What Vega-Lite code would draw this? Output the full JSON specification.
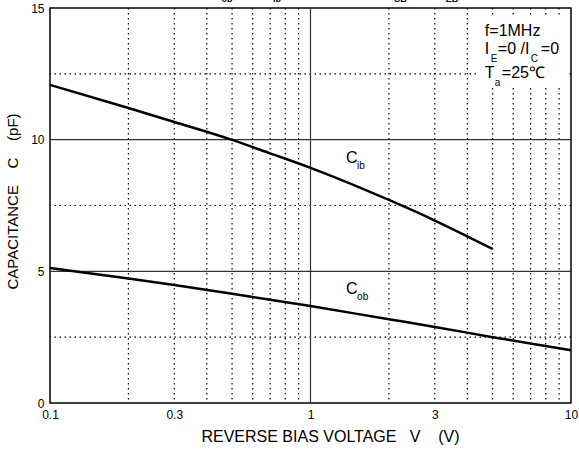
{
  "$schema": "https://vega.github.io/schema/vega-lite/v6.json",
  "width": 521,
  "height": 395,
  "autosize": "none",
  "padding": {"left": 50, "top": 8, "right": 8, "bottom": 49},
  "background": "white",
  "config": {
    "view": {"stroke": "#000", "strokeWidth": 1.5},
    "font": "Liberation Sans",
    "text": {"font": "Liberation Sans", "color": "#000"}
  },
  "datasets": {
    "curves": [
      {"v": 0.1, "c": 12.08, "s": "Cib"},
      {"v": 0.2, "c": 11.2, "s": "Cib"},
      {"v": 0.3, "c": 10.67, "s": "Cib"},
      {"v": 0.5, "c": 9.99, "s": "Cib"},
      {"v": 0.7, "c": 9.48, "s": "Cib"},
      {"v": 1.0, "c": 8.93, "s": "Cib"},
      {"v": 2.0, "c": 7.71, "s": "Cib"},
      {"v": 3.0, "c": 6.93, "s": "Cib"},
      {"v": 5.0, "c": 5.85, "s": "Cib"},
      {"v": 0.1, "c": 5.13, "s": "Cob"},
      {"v": 0.2, "c": 4.73, "s": "Cob"},
      {"v": 0.3, "c": 4.48, "s": "Cob"},
      {"v": 0.5, "c": 4.15, "s": "Cob"},
      {"v": 1.0, "c": 3.68, "s": "Cob"},
      {"v": 2.0, "c": 3.18, "s": "Cob"},
      {"v": 3.0, "c": 2.89, "s": "Cob"},
      {"v": 5.0, "c": 2.5, "s": "Cob"},
      {"v": 10.0, "c": 2.0, "s": "Cob"}
    ],
    "vdot": [{"x": 0.2}, {"x": 0.3}, {"x": 0.4}, {"x": 0.5}, {"x": 0.6}, {"x": 0.7}, {"x": 0.8}, {"x": 0.9}, {"x": 2}, {"x": 3}, {"x": 4}, {"x": 5}, {"x": 6}, {"x": 7}, {"x": 8}, {"x": 9}],
    "hdot": [{"y": 2.5}, {"y": 7.5}, {"y": 12.5}],
    "vsolid": [{"x": 1}],
    "hsolid": [{"y": 5}, {"y": 10}]
  },
  "layer": [
    {
      "data": {"name": "vdot"},
      "mark": {"type": "rule", "stroke": "#000", "strokeWidth": 1.2, "strokeDash": [1.5, 3.5]},
      "encoding": {"x": {"field": "x", "type": "quantitative", "scale": {"type": "log", "domain": [0.1, 10], "nice": false},
        "axis": {"values": [0.1, 0.3, 1, 3, 10], "format": "~g", "title": "REVERSE BIAS VOLTAGE\u00a0\u00a0\u00a0V\u00a0\u00a0\u00a0\u00a0(V)", "grid": false, "ticks": false, "domain": false, "labelFontSize": 12, "labelColor": "#000", "labelPadding": 6, "titleFontSize": 16, "titleFontWeight": "normal", "titleColor": "#000", "titlePadding": 8, "titleX": 280, "titleAlign": "center", "labelFont": "Liberation Sans", "titleFont": "Liberation Sans", "labelOverlap": false, "labelFlush": false}}}
    },
    {
      "data": {"name": "hdot"},
      "mark": {"type": "rule", "stroke": "#000", "strokeWidth": 1.2, "strokeDash": [1.5, 3.5]},
      "encoding": {"y": {"field": "y", "type": "quantitative", "scale": {"domain": [0, 15], "nice": false},
        "axis": {"values": [0, 5, 10, 15], "title": "CAPACITANCE\u00a0\u00a0\u00a0\u00a0C\u00a0\u00a0\u00a0\u00a0(pF)", "grid": false, "ticks": false, "domain": false, "labelFontSize": 12, "labelColor": "#000", "labelPadding": 6, "titleFontSize": 15, "titleFontWeight": "normal", "titleColor": "#000", "titlePadding": 10, "titleY": 193, "labelFont": "Liberation Sans", "titleFont": "Liberation Sans", "labelFlush": false}}}
    },
    {
      "data": {"name": "vsolid"},
      "mark": {"type": "rule", "stroke": "#333", "strokeWidth": 1.2},
      "encoding": {"x": {"field": "x", "type": "quantitative"}}
    },
    {
      "data": {"name": "hsolid"},
      "mark": {"type": "rule", "stroke": "#333", "strokeWidth": 1.2},
      "encoding": {"y": {"field": "y", "type": "quantitative"}}
    },
    {
      "data": {"values": [{"x1": 4.37, "x2": 9.75, "y1": 12.04, "y2": 14.7}]},
      "mark": {"type": "rect", "fill": "white"},
      "encoding": {"x": {"field": "x1", "type": "quantitative"}, "x2": {"field": "x2"}, "y": {"field": "y1", "type": "quantitative"}, "y2": {"field": "y2"}}
    },
    {
      "data": {"name": "curves"},
      "mark": {"type": "line", "stroke": "#000", "strokeWidth": 2.5, "interpolate": "monotone"},
      "encoding": {
        "x": {"field": "v", "type": "quantitative"},
        "y": {"field": "c", "type": "quantitative"},
        "detail": {"field": "s", "type": "nominal"}
      }
    },
    {
      "data": {"values": [{"x": 1.37, "y": 9.3, "t": "C"}, {"x": 1.37, "y": 4.33, "t": "C"}]},
      "mark": {"type": "text", "fontSize": 16, "align": "left", "baseline": "middle"},
      "encoding": {"x": {"field": "x", "type": "quantitative"}, "y": {"field": "y", "type": "quantitative"}, "text": {"field": "t"}}
    },
    {
      "data": {"values": [{"x": 1.37, "y": 9.3, "t": "ib"}, {"x": 1.37, "y": 4.33, "t": "ob"}]},
      "mark": {"type": "text", "fontSize": 10, "align": "left", "baseline": "middle", "dx": 11, "dy": 8},
      "encoding": {"x": {"field": "x", "type": "quantitative"}, "y": {"field": "y", "type": "quantitative"}, "text": {"field": "t"}}
    },
    {
      "data": {"values": [{"x": 4.67, "y": 14.13, "t": "f=1MHz"}, {"x": 4.67, "y": 13.44, "t": "I"}, {"x": 4.67, "y": 12.53, "t": "T"}]},
      "mark": {"type": "text", "fontSize": 16, "align": "left", "baseline": "middle"},
      "encoding": {"x": {"field": "x", "type": "quantitative"}, "y": {"field": "y", "type": "quantitative"}, "text": {"field": "t"}}
    },
    {
      "data": {"values": [{"x": 4.67, "y": 13.44, "t": "E"}]},
      "mark": {"type": "text", "fontSize": 10, "align": "left", "baseline": "middle", "dx": 6, "dy": 10},
      "encoding": {"x": {"field": "x", "type": "quantitative"}, "y": {"field": "y", "type": "quantitative"}, "text": {"field": "t"}}
    },
    {
      "data": {"values": [{"x": 4.67, "y": 13.44, "t": "=0 /I"}]},
      "mark": {"type": "text", "fontSize": 16, "align": "left", "baseline": "middle", "dx": 13},
      "encoding": {"x": {"field": "x", "type": "quantitative"}, "y": {"field": "y", "type": "quantitative"}, "text": {"field": "t"}}
    },
    {
      "data": {"values": [{"x": 4.67, "y": 13.44, "t": "C"}]},
      "mark": {"type": "text", "fontSize": 10, "align": "left", "baseline": "middle", "dx": 46, "dy": 10},
      "encoding": {"x": {"field": "x", "type": "quantitative"}, "y": {"field": "y", "type": "quantitative"}, "text": {"field": "t"}}
    },
    {
      "data": {"values": [{"x": 4.67, "y": 13.44, "t": "=0"}]},
      "mark": {"type": "text", "fontSize": 16, "align": "left", "baseline": "middle", "dx": 56},
      "encoding": {"x": {"field": "x", "type": "quantitative"}, "y": {"field": "y", "type": "quantitative"}, "text": {"field": "t"}}
    },
    {
      "data": {"values": [{"x": 4.67, "y": 12.53, "t": "a"}]},
      "mark": {"type": "text", "fontSize": 10, "align": "left", "baseline": "middle", "dx": 10, "dy": 10},
      "encoding": {"x": {"field": "x", "type": "quantitative"}, "y": {"field": "y", "type": "quantitative"}, "text": {"field": "t"}}
    },
    {
      "data": {"values": [{"x": 4.67, "y": 12.53, "t": "=25℃"}]},
      "mark": {"type": "text", "fontSize": 16, "align": "left", "baseline": "middle", "dx": 17},
      "encoding": {"x": {"field": "x", "type": "quantitative"}, "y": {"field": "y", "type": "quantitative"}, "text": {"field": "t"}}
    },
    {
      "data": {"values": [{"x": 0.478, "y": 15.34, "t": "ob"}, {"x": 0.743, "y": 15.34, "t": "ib"}, {"x": 2.21, "y": 15.34, "t": "CB"}, {"x": 3.49, "y": 15.34, "t": "EB"}]},
      "mark": {"type": "text", "fontSize": 9, "fontWeight": "bold", "align": "center", "baseline": "middle"},
      "encoding": {"x": {"field": "x", "type": "quantitative"}, "y": {"field": "y", "type": "quantitative"}, "text": {"field": "t"}}
    }
  ]
}
